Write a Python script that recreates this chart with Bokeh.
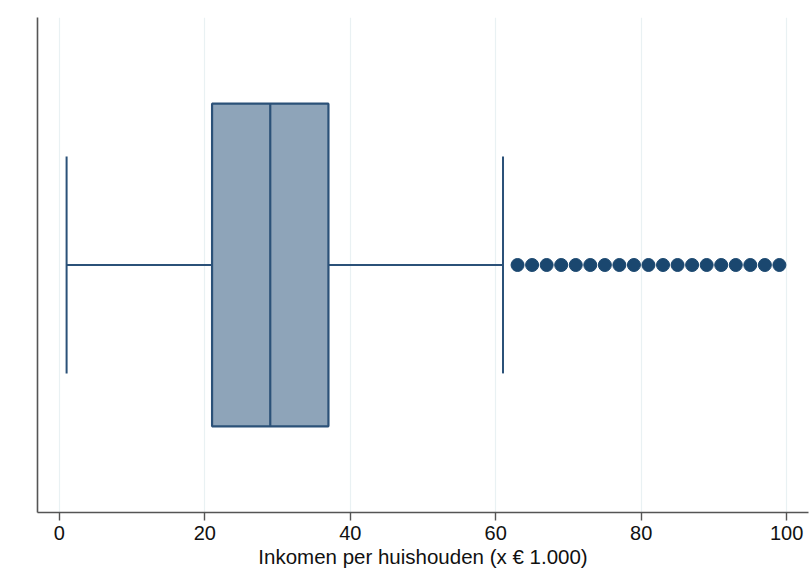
from bokeh.plotting import figure
from bokeh.models import Range1d, FixedTicker, ColumnDataSource
from bokeh.embed import file_html
from bokeh.resources import INLINE

# Household income summary (x € 1.000)
whisker_low = 1
q1 = 21
median = 29
q3 = 37
whisker_high = 61
outliers = [63, 65, 67, 69, 71, 73, 75, 77, 79, 81, 83, 85, 87, 89, 91, 93, 95, 97, 99]
x_ticks = [0, 20, 40, 60, 80, 100]
x_label = "Inkomen per huishouden (x € 1.000)"

LINE = "#2b5178"
FILL = "#8ea4b9"
DOT = "#1a476f"
FONT = "Liberation Sans"

mid = 0.5
box_half = 0.326
cap_half = 0.219

p = figure(width=812, height=578, output_backend="svg", toolbar_location=None,
           x_range=Range1d(-3, 103), y_range=Range1d(0, 1),
           min_border_left=37, min_border_right=4, min_border_top=17, min_border_bottom=66)
p.outline_line_color = None
p.background_fill_color = "white"
p.border_fill_color = "white"

# grid
p.xgrid.ticker = FixedTicker(ticks=x_ticks)
p.xgrid.grid_line_color = "#e9f1f3"
p.xgrid.grid_line_width = 1.2
p.ygrid.grid_line_color = None

# x axis
p.xaxis.ticker = FixedTicker(ticks=x_ticks)
p.xaxis.axis_label = x_label
p.xaxis.axis_label_text_font = FONT
p.xaxis.axis_label_text_font_size = "20.5px"
p.xaxis.axis_label_text_font_style = "normal"
p.xaxis.axis_label_text_color = "#111111"
p.xaxis.axis_label_standoff = 2
p.xaxis.major_label_text_font = FONT
p.xaxis.major_label_text_font_size = "20px"
p.xaxis.major_label_text_color = "#111111"
p.xaxis.major_label_standoff = 5
p.xaxis.major_tick_in = 0
p.xaxis.major_tick_out = 8
p.xaxis.minor_tick_in = 0
p.xaxis.minor_tick_out = 0
p.xaxis.axis_line_color = "#555555"
p.xaxis.axis_line_width = 1.6
p.xaxis.major_tick_line_color = "#555555"
p.xaxis.major_tick_line_width = 1.4

# y axis: line only, no ticks or labels
p.yaxis.ticker = FixedTicker(ticks=[])
p.yaxis.major_tick_out = 0
p.yaxis.major_tick_in = 0
p.yaxis.minor_tick_out = 0
p.yaxis.minor_tick_in = 0
p.yaxis.axis_line_color = "#555555"
p.yaxis.axis_line_width = 1.6

# whiskers
p.segment(x0=[whisker_low, q3], y0=[mid, mid], x1=[q1, whisker_high], y1=[mid, mid],
          line_color=LINE, line_width=2)
p.segment(x0=[whisker_low, whisker_high], y0=[mid - cap_half] * 2,
          x1=[whisker_low, whisker_high], y1=[mid + cap_half] * 2,
          line_color=LINE, line_width=2)

# box
p.quad(left=[q1], right=[q3], bottom=[mid - box_half], top=[mid + box_half],
       fill_color=FILL, line_color=LINE, line_width=2.2)
p.segment(x0=[median], y0=[mid - box_half], x1=[median], y1=[mid + box_half],
          line_color=LINE, line_width=2.2)

# outliers
src = ColumnDataSource(dict(x=outliers, y=[mid] * len(outliers)))
p.scatter("x", "y", source=src, size=13, fill_color=DOT, line_color=DOT)

open("out.html", "w").write(file_html(p, INLINE))
